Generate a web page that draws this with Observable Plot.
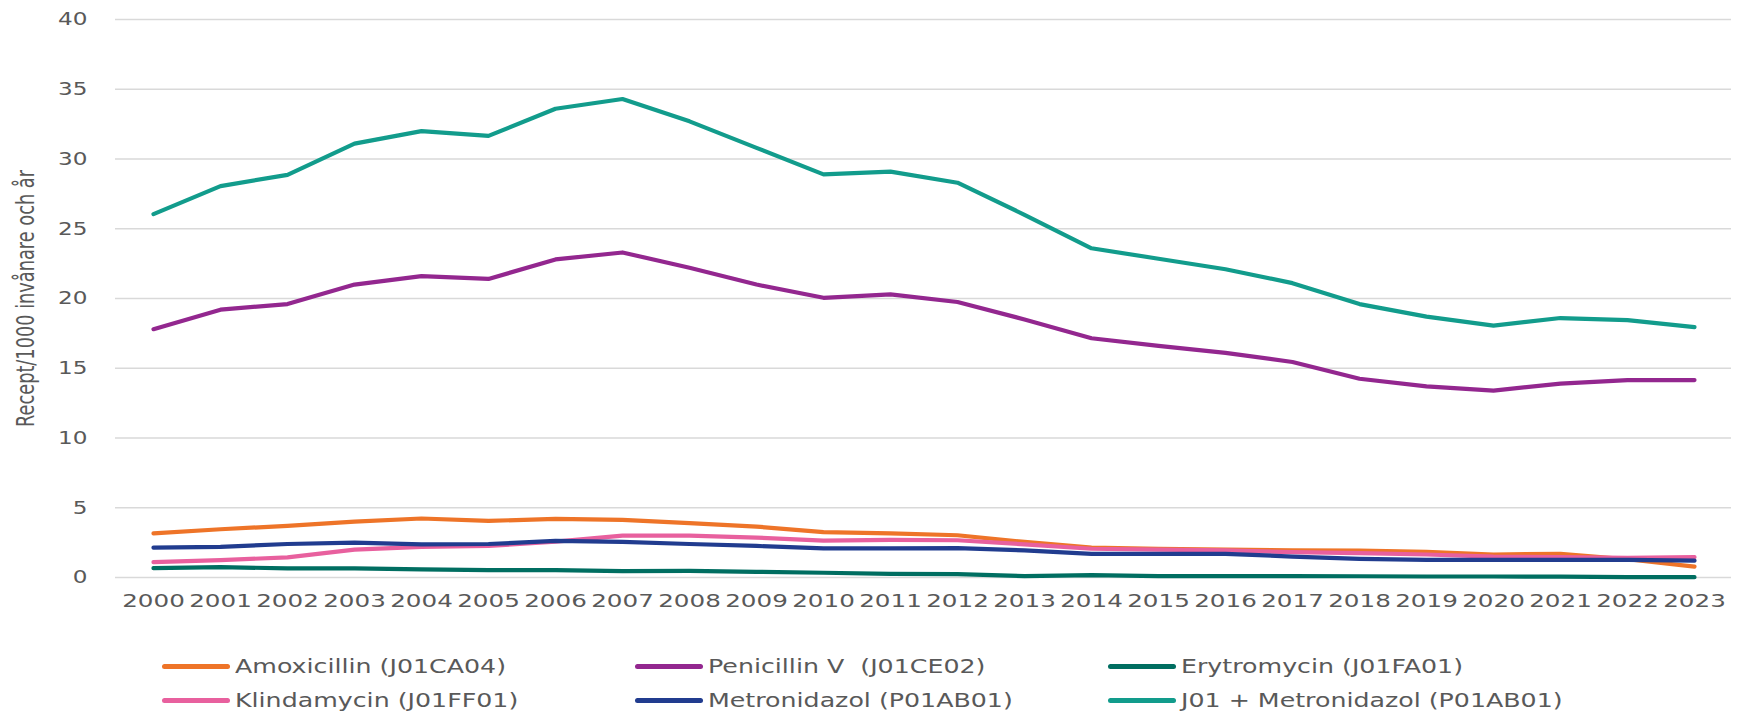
<!DOCTYPE html>
<html>
<head>
<meta charset="utf-8">
<script src="https://cdn.jsdelivr.net/npm/d3@7"></script>
<script src="https://cdn.jsdelivr.net/npm/@observablehq/plot@0.6"></script>
<style>
  html, body { margin: 0; padding: 0; background: #fff; }
  #wrap { position: relative; width: 1753px; height: 713px; overflow: hidden; background: #fff; }
  .leg { position: absolute; display: flex; align-items: center; height: 30px; margin-top: -15px;
         font-family: "DejaVu Sans", sans-serif; font-size: 19px; color: #595959; white-space: pre; }
  .leg .txt { display: inline-block; transform: scaleX(1.33); transform-origin: left center; }
  .sw { display: inline-block; width: 68px; height: 5px; border-radius: 3px; margin-right: 5px; }
</style>
</head>
<body>
<div id="wrap">
  <div id="chart"></div>
  <div id="legend"></div>
</div>
<script>
const years = ["2000","2001","2002","2003","2004","2005","2006","2007","2008","2009","2010","2011",
               "2012","2013","2014","2015","2016","2017","2018","2019","2020","2021","2022","2023"];

const seriesNames = [
  "Amoxicillin (J01CA04)",
  "Penicillin V  (J01CE02)",
  "Erytromycin (J01FA01)",
  "Klindamycin (J01FF01)",
  "Metronidazol (P01AB01)",
  "J01 + Metronidazol (P01AB01)"
];
const seriesColors = ["#EE7428", "#93278F", "#006E61", "#E8609E", "#213C8F", "#129C8C"];

const amoxicillin = [3.17,3.46,3.70,4.00,4.23,4.06,4.20,4.13,3.90,3.65,3.25,3.17,3.03,2.55,2.14,2.06,2.00,1.94,1.92,1.84,1.65,1.70,1.31,0.78];
const penicillinV = [17.8,19.2,19.6,21.0,21.6,21.4,22.8,23.3,22.2,21.0,20.05,20.3,19.75,18.5,17.15,16.6,16.1,15.45,14.25,13.7,13.4,13.9,14.15,14.15];
const erytromycin = [0.67,0.75,0.65,0.65,0.58,0.53,0.53,0.46,0.48,0.41,0.34,0.26,0.24,0.10,0.17,0.10,0.10,0.10,0.09,0.07,0.07,0.06,0.03,0.02];
const klindamycin = [1.10,1.25,1.44,2.00,2.20,2.26,2.57,3.00,3.00,2.86,2.64,2.70,2.67,2.38,2.06,2.00,1.94,1.82,1.75,1.65,1.50,1.46,1.40,1.46];
const metronidazol = [2.14,2.20,2.40,2.50,2.38,2.40,2.62,2.55,2.40,2.26,2.09,2.09,2.10,1.94,1.70,1.70,1.70,1.50,1.33,1.26,1.26,1.26,1.26,1.21];
const j01Metronidazol = [26.05,28.06,28.86,31.1,32.0,31.66,33.6,34.3,32.7,30.8,28.9,29.1,28.3,26.0,23.6,22.85,22.1,21.1,19.6,18.7,18.05,18.6,18.45,17.95];

const yTicks = [0,5,10,15,20,25,30,35,40];
const yLabel = "Recept/1000 invånare och år";

const seriesValues = [amoxicillin, penicillinV, erytromycin, klindamycin, metronidazol, j01Metronidazol];
const rows = [];
seriesNames.forEach((name, s) => {
  years.forEach((yr, i) => rows.push({series: name, year: yr, value: seriesValues[s][i]}));
});

const chart = Plot.plot({
  width: 1753,
  height: 640,
  marginTop: 19,
  marginBottom: 63,
  marginLeft: 115,
  marginRight: 22,
  style: {fontFamily: "DejaVu Sans, sans-serif", color: "#595959", background: "white", overflow: "visible"},
  x: {type: "point", domain: years, padding: 0.5},
  y: {domain: [0, 40]},
  color: {domain: seriesNames, range: seriesColors},
  marks: [
    Plot.gridY(yTicks, {stroke: "#d9d9d9", strokeOpacity: 1, strokeWidth: 1.5}),
    Plot.axisX({tickSize: 0, tickPadding: 16, fontSize: 18.5, label: null, fill: "#595959"}),
    Plot.axisY(yTicks, {tickSize: 0, tickPadding: 28, fontSize: 18.5, label: null, fill: "#595959"}),
    Plot.text([yLabel], {frameAnchor: "left", textAnchor: "middle", rotate: -90, dx: -89, fontSize: 24,
      fill: "#595959", lineAnchor: "middle"}),
    Plot.line(rows, {x: "year", y: "value", z: "series", stroke: "series",
      strokeWidth: 4.2, strokeLinejoin: "round", strokeLinecap: "round"})
  ]
});
document.getElementById("chart").appendChild(chart);

// emulate the horizontally stretched typography of the original
function stretch(sel, k) {
  chart.querySelectorAll(sel).forEach(t => {
    const L = t.getComputedTextLength();
    t.setAttribute("textLength", (L * k).toFixed(1));
    t.setAttribute("lengthAdjust", "spacingAndGlyphs");
  });
}
stretch('g[aria-label="x-axis tick label"] text', 1.33);
stretch('g[aria-label="y-axis tick label"] text', 1.25);
chart.querySelectorAll('g[aria-label="text"] text').forEach(t => {
  t.setAttribute("textLength", "257");
  t.setAttribute("lengthAdjust", "spacingAndGlyphs");
});

// legend (HTML below the plot)
const legend = document.getElementById("legend");
const colX = [162, 635, 1108];
const rowY = [666, 700];
seriesNames.forEach((name, i) => {
  const d = document.createElement("div");
  d.className = "leg";
  d.style.left = colX[i % 3] + "px";
  d.style.top = rowY[Math.floor(i / 3)] + "px";
  const sw = document.createElement("span");
  sw.className = "sw";
  sw.style.background = seriesColors[i];
  const t = document.createElement("span");
  t.className = "txt";
  t.textContent = name;
  d.appendChild(sw);
  d.appendChild(t);
  legend.appendChild(d);
});
</script>
</body>
</html>
